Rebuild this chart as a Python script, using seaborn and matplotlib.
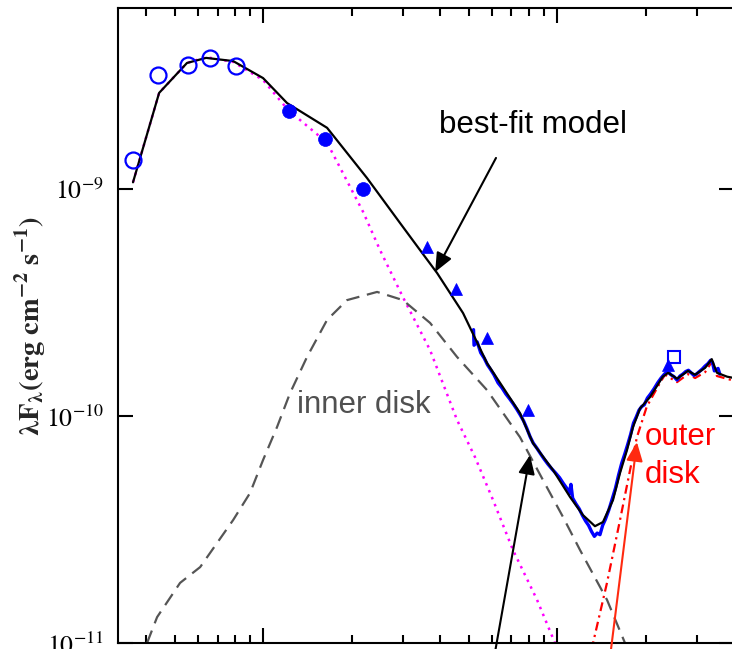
import numpy as np
import pandas as pd
import matplotlib
matplotlib.use("Agg")
import matplotlib.pyplot as plt
import seaborn as sns
from matplotlib.ticker import FixedLocator, NullLocator, NullFormatter

# ---------------- data (wavelength in micron, lambda F_lambda in erg cm^-2 s^-1) -------------
opt_wl = [0.36, 0.44, 0.556, 0.66, 0.81]
opt_flux = [1.34e-9, 3.18e-9, 3.52e-9, 3.78e-9, 3.48e-9]

nir_wl = [1.226, 1.625, 2.19]
nir_flux = [2.21e-9, 1.66e-9, 1.0e-9]

irac_wl = [3.61, 4.53, 5.78, 7.96, 23.9]
irac_flux = [5.55e-10, 3.63e-10, 2.21e-10, 1.06e-10, 1.68e-10]

mips_wl = [25.06]
mips_flux = [1.82e-10]

model_wl = [0.361, 0.443, 0.551, 0.640, 0.791, 1.0, 1.207, 1.651, 2.258, 2.924, 3.42, 3.91,
            4.79, 5.78, 6.92, 7.48, 8.28, 9.69, 11.07, 12.25, 13.46, 14.33, 15.5, 16.38,
            17.3, 18.14, 19.16, 20.7, 22.9, 23.9, 25.6, 27.9, 29.5, 31.9, 33.6, 35.0, 37.9, 40.0]
model_flux = [1.07e-9, 2.65e-9, 3.59e-9, 3.78e-9, 3.66e-9, 3.08e-9, 2.39e-9, 1.86e-9, 1.117e-9,
              7.08e-10, 5.38e-10, 4.26e-10, 2.84e-10, 1.71e-10, 1.20e-10, 1.03e-10, 7.60e-11,
              5.78e-11, 4.40e-11, 3.66e-11, 3.27e-11, 3.41e-11, 4.26e-11, 5.61e-11, 7.08e-11,
              8.95e-11, 1.08e-10, 1.21e-10, 1.49e-10, 1.55e-10, 1.46e-10, 1.58e-10, 1.52e-10,
              1.63e-10, 1.78e-10, 1.55e-10, 1.49e-10, 1.47e-10]

star_wl = [0.361, 0.443, 0.551, 0.640, 0.791, 1.0, 1.216, 1.651, 2.19, 2.50, 2.99, 3.70,
           4.57, 5.26, 6.06, 7.08, 8.55, 9.84, 11.5]
star_flux = [1.07e-9, 2.65e-9, 3.59e-9, 3.81e-9, 3.63e-9, 3.02e-9, 2.23e-9, 1.60e-9, 7.92e-10,
             5.38e-10, 3.34e-10, 1.95e-10, 9.60e-11, 6.59e-11, 4.26e-11, 2.57e-11, 1.55e-11,
             1.0e-11, 6.9e-12]

inner_wl = [0.403, 0.436, 0.522, 0.611, 0.791, 0.903, 1.0, 1.116, 1.235, 1.411, 1.651, 1.931,
            2.443, 2.99, 3.70, 4.57, 5.78, 7.48, 8.96, 10.48, 11.97, 14.79, 17.03, 18.4]
inner_flux = [1.0e-11, 1.30e-11, 1.84e-11, 2.16e-11, 3.48e-11, 4.58e-11, 6.40e-11, 8.95e-11,
              1.26e-10, 1.82e-10, 2.65e-10, 3.24e-10, 3.52e-10, 3.24e-10, 2.57e-10, 1.82e-10,
              1.30e-10, 8.07e-11, 5.22e-11, 3.59e-11, 2.57e-11, 1.55e-11, 1.0e-11, 8.0e-12]

outer_wl = [12.74, 13.26, 14.79, 16.38, 17.72, 18.7, 20.2, 22.4, 23.3, 25.6, 27.9, 29.5,
            31.9, 33.6, 35.0, 40.0]
outer_flux = [8.0e-12, 1.0e-11, 1.84e-11, 3.48e-11, 5.78e-11, 8.07e-11, 1.10e-10, 1.40e-10,
              1.52e-10, 1.41e-10, 1.53e-10, 1.47e-10, 1.56e-10, 1.73e-10, 1.50e-10, 1.43e-10]

irs_wl = [5.20, 5.22, 5.35, 5.50, 5.65, 5.80, 5.95, 6.10, 6.30, 6.50, 6.70, 6.90, 7.10, 7.30,
          7.50, 7.70, 7.90, 8.10, 8.30, 8.55, 8.80, 9.05, 9.30, 9.60, 9.90, 10.2, 10.5, 10.8,
          11.0, 11.15, 11.3, 11.6, 11.9, 12.2, 12.5, 12.8, 13.1, 13.4, 13.7, 14.0, 14.3, 14.6,
          15.0, 15.4, 15.8, 16.2, 16.6, 17.0, 17.4, 17.8, 18.2, 18.6, 19.0, 19.4, 19.8, 20.3,
          20.8, 21.4, 22.0, 22.6, 23.2, 23.8, 24.4, 25.0, 25.6, 26.2, 26.8, 27.4, 28.0, 28.6,
          29.2, 29.8, 30.5, 31.2, 31.9, 32.6, 33.3, 33.8, 34.3, 34.8, 35.3, 35.8]
irs_flux = [2.40e-10, 2.05e-10, 2.12e-10, 1.90e-10, 1.80e-10, 1.68e-10, 1.60e-10, 1.52e-10,
            1.40e-10, 1.33e-10, 1.25e-10, 1.19e-10, 1.13e-10, 1.07e-10, 1.01e-10, 9.5e-11,
            8.8e-11, 8.1e-11, 7.6e-11, 7.2e-11, 6.8e-11, 6.45e-11, 6.15e-11, 5.85e-11, 5.6e-11,
            5.35e-11, 5.05e-11, 4.8e-11, 4.55e-11, 5.0e-11, 4.35e-11, 4.1e-11, 3.9e-11, 3.65e-11,
            3.45e-11, 3.3e-11, 3.1e-11, 2.95e-11, 3.05e-11, 3.0e-11, 3.3e-11, 3.5e-11, 3.85e-11,
            4.3e-11, 4.8e-11, 5.5e-11, 6.2e-11, 6.8e-11, 7.5e-11, 8.3e-11, 9.3e-11, 9.9e-11,
            1.06e-10, 1.10e-10, 1.12e-10, 1.20e-10, 1.25e-10, 1.32e-10, 1.40e-10, 1.47e-10,
            1.53e-10, 1.57e-10, 1.52e-10, 1.49e-10, 1.44e-10, 1.50e-10, 1.53e-10, 1.57e-10,
            1.59e-10, 1.55e-10, 1.51e-10, 1.53e-10, 1.57e-10, 1.61e-10, 1.66e-10, 1.70e-10,
            1.76e-10, 1.72e-10, 1.58e-10, 1.60e-10, 1.62e-10, 1.53e-10]

ytick_vals = [1e-11, 1e-10, 1e-9]
ytick_labels = [r"$10^{-11}$", r"$10^{-10}$", r"$10^{-9}$"]

# ---------------- figure ----------------
sns.set_style("ticks")
plt.rcParams["font.family"] = ["Liberation Sans", "DejaVu Sans"]
plt.rcParams["mathtext.fontset"] = "stix"

W, H = 732, 649
fig = plt.figure(figsize=(W / 100, H / 100), dpi=100)
ax = fig.add_axes([118 / W, 6 / H, 616 / W, 635 / H])
ax.set_xscale("log")
ax.set_yscale("log")

def line(xs, ys, **kw):
    df = pd.DataFrame({"wl": xs, "f": ys})
    sns.lineplot(data=df, x="wl", y="f", ax=ax, estimator=None, sort=False, **kw)

line(star_wl, star_flux, color="#ff00ff", lw=1.8, linestyle=(0, (1, 2.0)), zorder=2)
line(inner_wl, inner_flux, color="#555555", lw=1.6, linestyle=(0, (6, 3.5)), zorder=2)
line(outer_wl, outer_flux, color="#ff0000", lw=1.6, linestyle=(0, (4, 2, 1, 2)), zorder=2)
line(irs_wl, irs_flux, color="#0000ff", lw=2.4, zorder=3)
line(model_wl, model_flux, color="black", lw=1.6, zorder=4)

def markers(xs, ys, **kw):
    df = pd.DataFrame({"wl": xs, "f": ys})
    sns.lineplot(data=df, x="wl", y="f", ax=ax, estimator=None, sort=False,
                 linestyle="none", **kw)

markers(opt_wl, opt_flux, marker="o", markersize=11.5, markerfacecolor="none",
        markeredgecolor="#0000ff", markeredgewidth=1.6, color="#0000ff", zorder=5)
markers(nir_wl, nir_flux, marker="o", markersize=10, markerfacecolor="#0000ff",
        markeredgecolor="#0000ff", markeredgewidth=0.5, color="#0000ff", zorder=5)
markers(irac_wl, irac_flux, marker="^", markersize=9, markerfacecolor="#0000ff",
        markeredgecolor="#0000ff", markeredgewidth=0.5, color="#0000ff", zorder=5)
markers(mips_wl, mips_flux, marker="s", markersize=8.5, markerfacecolor="none",
        markeredgecolor="#0000ff", markeredgewidth=1.5, color="#0000ff", zorder=5)

ax.set_xlim(0.321, 40.0)
ax.set_ylim(1e-11, 6.27e-9)
ax.set_xlabel("")
ax.set_ylabel("")

ax.yaxis.set_major_locator(FixedLocator(ytick_vals))
ax.set_yticklabels(ytick_labels)
ax.yaxis.set_minor_locator(NullLocator())
ax.xaxis.set_minor_formatter(NullFormatter())
ax.tick_params(axis="both", which="both", direction="in", top=True, right=True,
               width=1.5, colors="black", labelbottom=False)
ax.tick_params(axis="both", which="major", length=11)
ax.tick_params(axis="both", which="minor", length=5.5)
ax.tick_params(axis="y", which="major", labelsize=18.5, pad=10)
for s in ax.spines.values():
    s.set_linewidth(1.5)
    s.set_color("black")

# ---------------- annotations ----------------
arrow_kw = dict(arrowstyle="-|>,head_length=1.15,head_width=0.5", mutation_scale=10,
                lw=1.5, shrinkA=0, shrinkB=0)
ax.annotate("", xy=(3.85, 4.31e-10), xytext=(6.20, 1.37e-9),
            arrowprops=dict(color="black", **arrow_kw), annotation_clip=False, zorder=6)
ax.annotate("", xy=(8.09, 6.73e-11), xytext=(5.92, 6.87e-12),
            arrowprops=dict(color="black", **arrow_kw), annotation_clip=False, zorder=6)
ax.annotate("", xy=(18.7, 7.67e-11), xytext=(15.03, 8.0e-12),
            arrowprops=dict(color="#ff2a10", **arrow_kw), annotation_clip=False, zorder=6)

ax.text(8.28, 1.77e-9, "best-fit model", fontsize=22.5, color="black",
        ha="center", va="baseline", zorder=7)
ax.text(1.305, 1.03e-10, "inner disk", fontsize=22.5, color="#505050",
        ha="left", va="baseline", zorder=7)
ax.text(19.92, 7.45e-11, "outer", fontsize=22.5, color="#ff0000",
        ha="left", va="baseline", zorder=7)
ax.text(19.92, 5.07e-11, "disk", fontsize=22.5, color="#ff0000",
        ha="left", va="baseline", zorder=7)

fig.text(31 / W, 1 - 326 / H,
         r"$\mathbf{\lambda F_{\lambda} (erg\ cm^{-2}\ s^{-1})}$",
         rotation=90, ha="center", va="center", fontsize=20.5)

fig.savefig("out.png", dpi=100)
